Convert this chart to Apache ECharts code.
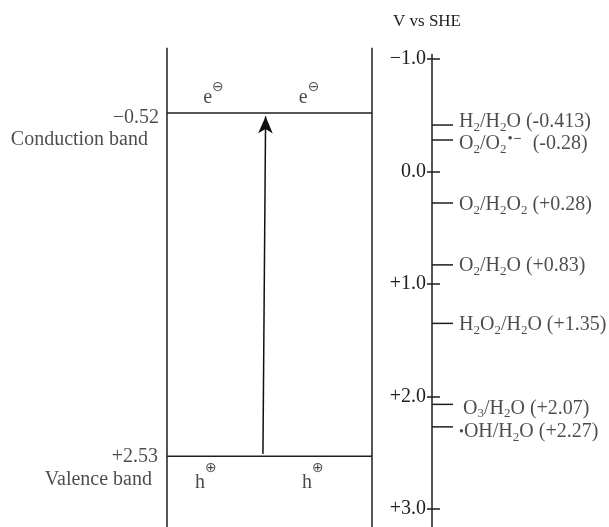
<!DOCTYPE html>
<html>
<head>
<meta charset="utf-8">
<script src="https://cdn.jsdelivr.net/npm/echarts@6/dist/echarts.min.js"></script>
<style>
  html, body { margin: 0; padding: 0; background: #fff; }
  #chart { width: 609px; height: 527px; }
</style>
</head>
<body>
<div id="chart"></div>
<script>
// Potential scale, V vs SHE (more negative at the top)
const scaleTicks = [-1, 0, 1, 2, 3];
const scaleTickLabels = ['−1.0', '0.0', '+1.0', '+2.0', '+3.0'];

// Semiconductor band edges (V vs SHE)
const bandNames = ['Conduction band', 'Valence band'];
const bandEdges = [-0.52, 2.53];

// Photo-excitation arrow, [position across the gap, potential]
const arrowFrom = [0.468, 2.51];
const arrowTo = [0.481, -0.49];

// Redox couples and their standard potentials
const coupleNames = [
  '{t|H}{s|2}{t|/H}{s|2}{t|O}',
  '{t|O}{s|2}{t|/O}{s|2}{p|•}{m|−}',
  '{t|O}{s|2}{t|/H}{s|2}{t|O}{s|2}',
  '{t|O}{s|2}{t|/H}{s|2}{t|O}',
  '{t|H}{s|2}{t|O}{s|2}{t|/H}{s|2}{t|O}',
  '{t|\u2009O}{s|3}{t|/H}{s|2}{t|O}',
  '{d|•}{t|OH/H}{s|2}{t|O}'
];
const couplePotentials = [-0.413, -0.28, 0.28, 0.83, 1.35, 2.07, 2.27];

// Charge carriers drawn at each band edge
const electronText = '{e|e}{c|⊖}';
const holeText = '{h|h}{c|⊕}';

const serif = 'Liberation Serif';
const ink = '#1e1e1e';

const decimals = v => (String(v).split('.')[1] || '').length;
const fmtSigned = (v, minus) => (v > 0 ? '+' : v < 0 ? minus : '') + Math.abs(v).toFixed(decimals(v));

const rich = {
  t: { fontFamily: serif, fontSize: 20, lineHeight: 24, color: ink },
  s: { fontFamily: serif, fontSize: 13, lineHeight: 13, verticalAlign: 'bottom', color: ink },
  p: { fontFamily: serif, fontSize: 15, lineHeight: 15, verticalAlign: 'top', color: ink, padding: [0, 1, 0, 1] },
  m: { fontFamily: serif, fontSize: 14, lineHeight: 14, verticalAlign: 'top', fontWeight: 'bold', color: ink, padding: [0, 6, 0, 0] },
  d: { fontFamily: serif, fontSize: 14, color: ink },
  e: { fontFamily: serif, fontSize: 20, lineHeight: 28, verticalAlign: 'bottom', color: ink },
  h: { fontFamily: serif, fontSize: 20, lineHeight: 32, verticalAlign: 'bottom', color: ink },
  c: { fontFamily: 'DejaVu Sans', fontSize: 14, lineHeight: 14, verticalAlign: 'top', color: ink }
};

const lineStyle = { color: ink, width: 1.5 };
const plainText = { fontFamily: serif, fontSize: 20, color: ink };

// Potential range of each panel (both share the same pixels per volt)
const boxMin = -1.1, boxMax = 3.16;
const scaleMin = -1.04, scaleMax = 3.16;

function segment(points, grid) {
  return {
    type: 'line', xAxisIndex: grid, yAxisIndex: grid,
    data: points, symbol: 'none', clip: false, silent: true,
    lineStyle: lineStyle, animation: false
  };
}

// label placement tweaks
const carrierX = { electrons: [0.227, 0.693], holes: [0.19, 0.712] };
const coupleTickEnd = 0.14;
const coupleLabelShift = [-3, 4, 2, 1, 1.5, 4, 5];

const option = {
  animation: false,
  title: {
    text: 'V vs SHE', left: 393, top: 13, padding: 0,
    textStyle: { fontFamily: serif, fontSize: 17, fontWeight: 'normal', color: ink }
  },
  grid: [
    { left: 167, width: 205, top: 47.75, height: 479.25 },
    { left: 432, width: 150, top: 54.5, height: 472.5 }
  ],
  xAxis: [
    { gridIndex: 0, type: 'value', min: 0, max: 1, show: false },
    { gridIndex: 1, type: 'value', min: 0, max: 1, show: false }
  ],
  yAxis: [
    { gridIndex: 0, type: 'value', min: boxMin, max: boxMax, inverse: true, show: false },
    {
      gridIndex: 1, type: 'value', min: scaleMin, max: scaleMax, inverse: true, position: 'left',
      splitLine: { show: false },
      axisLine: { show: true, lineStyle: lineStyle },
      axisTick: { show: true, customValues: scaleTicks, length: 5, inside: false, lineStyle: lineStyle },
      axisLabel: {
        show: true, customValues: scaleTicks, margin: 6, ...plainText,
        formatter: v => {
          let best = 0;
          scaleTicks.forEach((a, i) => { if (Math.abs(a - v) < Math.abs(scaleTicks[best] - v)) best = i; });
          return scaleTickLabels[best];
        }
      }
    },
    {
      gridIndex: 1, type: 'value', min: scaleMin, max: scaleMax, inverse: true, position: 'left',
      splitLine: { show: false },
      axisLine: { show: false },
      axisTick: { show: true, customValues: scaleTicks, length: 8, inside: true, lineStyle: lineStyle },
      axisLabel: { show: false }
    }
  ],
  series: [
    // box walls
    segment([[0, boxMin], [0, boxMax]], 0),
    segment([[1, boxMin], [1, boxMax]], 0),
    // band edges
    segment([[0, bandEdges[0]], [1, bandEdges[0]]], 0),
    segment([[0, bandEdges[1]], [1, bandEdges[1]]], 0),
    // excitation arrow
    {
      type: 'line', xAxisIndex: 0, yAxisIndex: 0, data: [], silent: true,
      markLine: {
        silent: true, animation: false,
        symbol: ['none', 'arrow'], symbolSize: [11, 17],
        lineStyle: { color: '#111', width: 1.5, type: 'solid' },
        label: { show: false },
        data: [[{ coord: arrowFrom }, { coord: arrowTo }]]
      }
    },
    // band edge values
    {
      type: 'scatter', xAxisIndex: 0, yAxisIndex: 0, symbolSize: 0, silent: true,
      data: bandEdges.map((v, i) => ({
        value: [0, v],
        label: {
          show: true, position: 'left', distance: i === 0 ? 8 : 9,
          offset: [0, i === 0 ? 5 : 1], ...plainText,
          formatter: fmtSigned(v, '−')
        }
      }))
    },
    // band names
    {
      type: 'scatter', xAxisIndex: 0, yAxisIndex: 0, symbolSize: 0, silent: true,
      data: bandEdges.map((v, i) => ({
        value: [0, v],
        label: {
          show: true, position: 'left', distance: i === 0 ? 19 : 15,
          offset: [0, i === 0 ? 27 : 24], ...plainText,
          formatter: bandNames[i]
        }
      }))
    },
    // electrons in the conduction band
    {
      type: 'scatter', xAxisIndex: 0, yAxisIndex: 0, symbolSize: 0, silent: true,
      data: carrierX.electrons.map(x => [x, bandEdges[0]]),
      label: { show: true, position: 'top', distance: 5, rich: rich, formatter: electronText }
    },
    // holes in the valence band
    {
      type: 'scatter', xAxisIndex: 0, yAxisIndex: 0, symbolSize: 0, silent: true,
      data: carrierX.holes.map(x => [x, bandEdges[1]]),
      label: { show: true, position: 'bottom', distance: 5, rich: rich, formatter: holeText }
    },
    // redox couple ticks on the potential scale
    ...couplePotentials.map(v => segment([[0, v], [coupleTickEnd, v]], 1)),
    // redox couple labels
    {
      type: 'scatter', xAxisIndex: 1, yAxisIndex: 1, symbolSize: 0, silent: true,
      data: couplePotentials.map((v, i) => ({
        value: [0, v],
        label: { offset: [0, coupleLabelShift[i]] }
      })),
      label: {
        show: true, position: 'right', distance: 27, rich: rich,
        formatter: p => {
          const i = p.dataIndex;
          return coupleNames[i] + '{t| (' + fmtSigned(couplePotentials[i], '-') + ')}';
        }
      }
    }
  ]
};

const chart = echarts.init(document.getElementById('chart'), null, { renderer: 'canvas' });
chart.setOption(option);
</script>
</body>
</html>
